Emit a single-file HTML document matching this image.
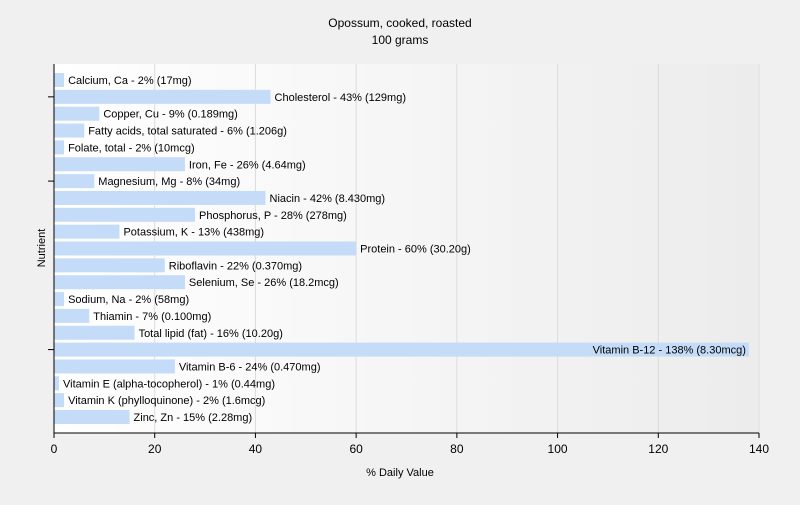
<!DOCTYPE html>
<html><head><meta charset="utf-8"><style>
body{margin:0;width:800px;height:500px;background:#f0f0f0;font-family:"Liberation Sans",sans-serif;overflow:hidden}
text{font-family:"Liberation Sans",sans-serif}
</style></head><body>
<svg id="c" width="800" height="500">
<defs><linearGradient id="g" x1="0" x2="1" y1="0" y2="0"><stop offset="0" stop-color="#ffffff"/><stop offset="1" stop-color="#ececec"/></linearGradient></defs>
<text x="400" y="27" text-anchor="middle" font-size="12" fill="#000">Opossum, cooked, roasted</text>
<text x="400" y="44" text-anchor="middle" font-size="12" fill="#000">100 grams</text>
<rect x="54" y="64" width="705" height="369" fill="url(#g)"/>
<g id="grid"></g><g id="bars"></g><g id="axes"></g>
<text x="400" y="476" text-anchor="middle" font-size="11">% Daily Value</text>
<text x="45" y="248" text-anchor="middle" font-size="11" transform="rotate(-90 45 248)">Nutrient</text>
</svg>
<script>
const categories=["Calcium, Ca","Cholesterol","Copper, Cu","Fatty acids, total saturated","Folate, total","Iron, Fe","Magnesium, Mg","Niacin","Phosphorus, P","Potassium, K","Protein","Riboflavin","Selenium, Se","Sodium, Na","Thiamin","Total lipid (fat)","Vitamin B-12","Vitamin B-6","Vitamin E (alpha-tocopherol)","Vitamin K (phylloquinone)","Zinc, Zn"];
const values=[2,43,9,6,2,26,8,42,28,13,60,22,26,2,7,16,138,24,1,2,15];
const amounts=["17mg","129mg","0.189mg","1.206g","10mcg","4.64mg","34mg","8.430mg","278mg","438mg","30.20g","0.370mg","18.2mcg","58mg","0.100mg","10.20g","8.30mcg","0.470mg","0.44mg","1.6mcg","2.28mg"];
const xTicks=[0,20,40,60,80,100,120,140];
const NS="http://www.w3.org/2000/svg";
const x=v=>54+v*(705/140);
const y=i=>80+i*16.85;
function mk(t,a,p){const e=document.createElementNS(NS,t);for(const k in a)e.setAttribute(k,a[k]);p.appendChild(e);return e;}
const grid=document.getElementById('grid'),bars=document.getElementById('bars'),axes=document.getElementById('axes');
xTicks.forEach(t=>{
 if(t>0){const l=mk('line',{x1:x(t),x2:x(t),y1:64,y2:433,stroke:'#dcdcdc'},grid);
 
 }
 const tk=mk('line',{x1:x(t),x2:x(t),y1:433,y2:438,stroke:'#000'},axes);
 
 
 const tx=mk('text',{x:x(t),y:453,'text-anchor':'middle','font-size':12},axes);tx.textContent=t;
 
 
});
categories.forEach((c,i)=>{
 const r=mk('rect',{x:54,y:y(i)-7,width:x(values[i])-54,height:14,fill:'#c4dcf8'},bars);
 
 
 const lbl=c+' - '+values[i]+'% ('+amounts[i]+')';
 const inside=x(values[i])+250>790;
 const t=mk('text',{x:inside?x(values[i])-3:x(values[i])+4,y:y(i)+4,'text-anchor':inside?'end':'start','font-size':11,fill:'#000'},bars);
 t.textContent=lbl;
 
 
});
[1,6,16].forEach(i=>{const l=mk('line',{x1:48,x2:54,y1:y(i),y2:y(i),stroke:'#000'},axes);
 
 });
const ya=mk('line',{x1:54,x2:54,y1:64,y2:433,stroke:'#000'},axes);


const xa=mk('line',{x1:54,x2:759,y1:433,y2:433,stroke:'#000'},axes);


</script>
</body></html>
